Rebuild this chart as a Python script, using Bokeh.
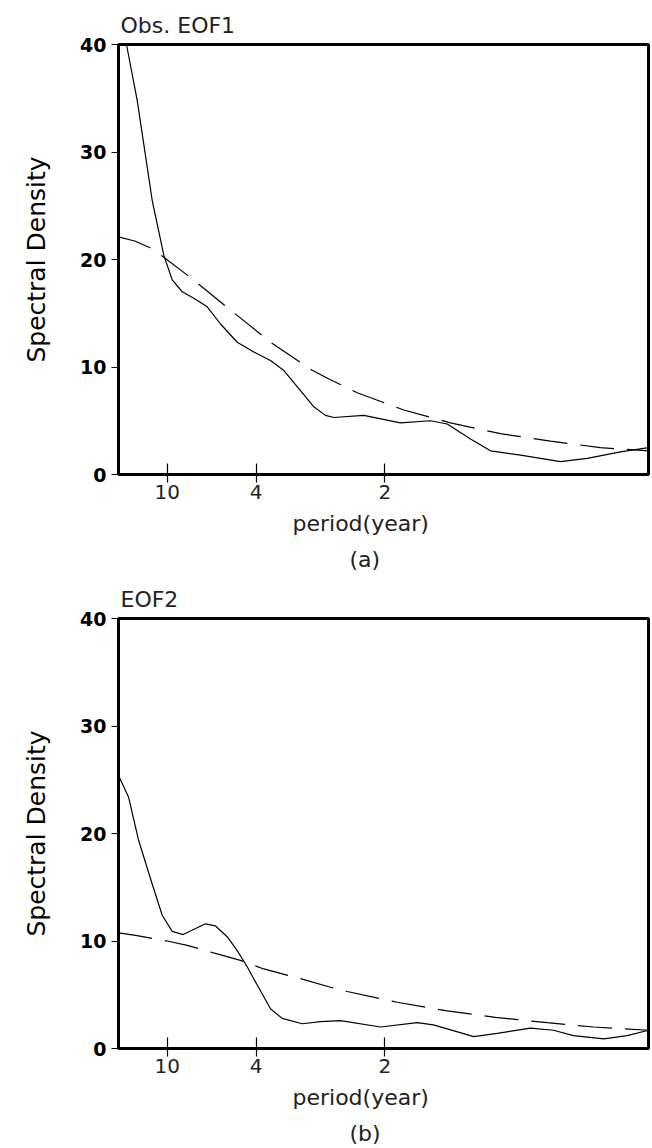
from bokeh.plotting import figure
from bokeh.models import FixedTicker, Range1d, Title
from bokeh.layouts import column
from bokeh.embed import file_html
from bokeh.resources import INLINE

# ---- axes ----
freq_max = 53.0
x_tick_pos = [4.87, 13.77, 26.63]
x_tick_labels = ["10", "4", "2"]
y_ticks = [0, 10, 20, 30, 40]

# ---- panel (a): Obs. EOF1 ----
a_solid_x = [0.0, 0.8, 1.87, 3.37, 4.53, 5.37, 6.37, 7.53, 8.87, 10.2, 11.87, 13.53, 15.2, 16.5,
             18.2, 19.53, 20.7, 21.53, 24.53, 28.2, 31.2, 32.87, 35.2, 37.2, 40.2, 44.2, 46.87, 50.2, 53.0]
a_solid_y = [46.0, 40.0, 34.8, 25.5, 20.4, 18.1, 17.0, 16.4, 15.6, 14.0, 12.3, 11.4, 10.6, 9.7,
             7.8, 6.3, 5.5, 5.3, 5.5, 4.8, 5.0, 4.7, 3.3, 2.2, 1.8, 1.2, 1.5, 2.1, 2.5]
a_dash_x = [0.0, 1.7, 3.37, 4.53, 7.37, 11.2, 15.2, 19.37, 21.0, 23.87, 28.53, 33.2, 38.2, 43.2, 48.2, 53.0]
a_dash_y = [22.1, 21.7, 21.0, 20.2, 18.2, 15.3, 12.3, 9.7, 8.9, 7.6, 6.0, 4.8, 3.8, 3.1, 2.5, 2.2]

# ---- panel (b): EOF2 ----
b_solid_x = [0.0, 1.0, 2.0, 3.37, 4.37, 5.37, 6.47, 8.7, 9.7, 10.87, 11.87, 12.87, 13.87, 15.2,
             16.37, 18.37, 20.2, 22.2, 26.2, 29.87, 31.5, 35.53, 37.87, 41.2, 43.5, 45.5, 48.53, 50.87, 53.0]
b_solid_y = [25.4, 23.4, 19.4, 15.3, 12.4, 10.9, 10.6, 11.6, 11.4, 10.4, 9.1, 7.6, 5.9, 3.7,
             2.8, 2.3, 2.5, 2.6, 2.0, 2.4, 2.2, 1.1, 1.4, 1.9, 1.7, 1.2, 0.9, 1.2, 1.7]
b_dash_x = [0.0, 1.87, 4.87, 6.87, 9.87, 12.2, 14.53, 18.2, 21.2, 22.87, 27.87, 32.87, 37.7, 42.87, 47.53, 53.0]
b_dash_y = [10.75, 10.5, 10.0, 9.6, 8.8, 8.2, 7.4, 6.5, 5.7, 5.3, 4.3, 3.5, 2.9, 2.4, 2.0, 1.7]

THIN = "DejaVu Sans"
SANS = "DejaVu Sans"


def make_panel(title, sx, sy, dx, dy, letter, top, bottom):
    p = figure(frame_width=530, frame_height=430,
               x_range=Range1d(0, freq_max), y_range=Range1d(0, 40),
               output_backend="svg", toolbar_location=None,
               min_border_left=118, min_border_right=4,
               min_border_top=top, min_border_bottom=bottom,
               background_fill_color="white", border_fill_color="white")
    p.xgrid.visible = False
    p.ygrid.visible = False
    p.outline_line_color = "black"
    p.outline_line_width = 3

    p.line(sx, sy, line_color="black", line_width=1.2)
    p.line(dx, dy, line_color="black", line_width=1.2, line_dash="34 13")

    xa = p.xaxis[0]
    xa.ticker = FixedTicker(ticks=x_tick_pos)
    xa.major_label_overrides = {t: l for t, l in zip(x_tick_pos, x_tick_labels)}
    xa.minor_tick_line_color = None
    xa.major_tick_in = 11
    xa.major_tick_out = 8
    xa.major_tick_line_width = 1.2
    xa.major_tick_line_color = "black"
    xa.axis_line_width = 3
    xa.axis_line_color = "black"
    xa.major_label_text_font = THIN
    xa.major_label_text_font_size = "20px"
    xa.major_label_text_color = "#222222"
    xa.major_label_standoff = 2

    ya = p.yaxis[0]
    ya.ticker = FixedTicker(ticks=y_ticks)
    ya.minor_tick_line_color = None
    ya.major_tick_in = 0
    ya.major_tick_out = 7
    ya.major_tick_line_width = 1.2
    ya.major_tick_line_color = "black"
    ya.axis_line_width = 3
    ya.axis_line_color = "black"
    ya.major_label_text_font = SANS
    ya.major_label_text_font_style = "bold"
    ya.major_label_text_font_size = "19px"
    ya.major_label_text_color = "black"
    ya.major_label_standoff = 5
    ya.axis_label = "Spectral Density"
    ya.axis_label_text_font = SANS
    ya.axis_label_text_font_style = "normal"
    ya.axis_label_text_font_size = "25px"
    ya.axis_label_text_color = "black"
    ya.axis_label_standoff = 26

    p.title.text = title
    p.title.align = "left"
    p.title.offset = 2
    p.title.text_font = THIN
    p.title.text_font_style = "normal"
    p.title.text_font_size = "22px"
    p.title.text_color = "#222222"
    p.title.standoff = 14

    p.add_layout(Title(text="period(year)", align="left", offset=174,
                       text_font=THIN, text_font_style="normal", text_font_size="22px",
                       text_color="#222222", standoff=14), "below")
    p.add_layout(Title(text=letter, align="left", offset=231,
                       text_font=THIN, text_font_style="normal", text_font_size="22px",
                       text_color="#222222", standoff=5), "below")
    return p


pa = make_panel("Obs. EOF1", a_solid_x, a_solid_y, a_dash_x, a_dash_y, "(a)", 44, 100)
pb = make_panel("EOF2", b_solid_x, b_solid_y, b_dash_x, b_dash_y, "(b)", 44, 98)

layout = column(pa, pb, spacing=0)
open("out.html", "w").write(file_html(layout, INLINE))
